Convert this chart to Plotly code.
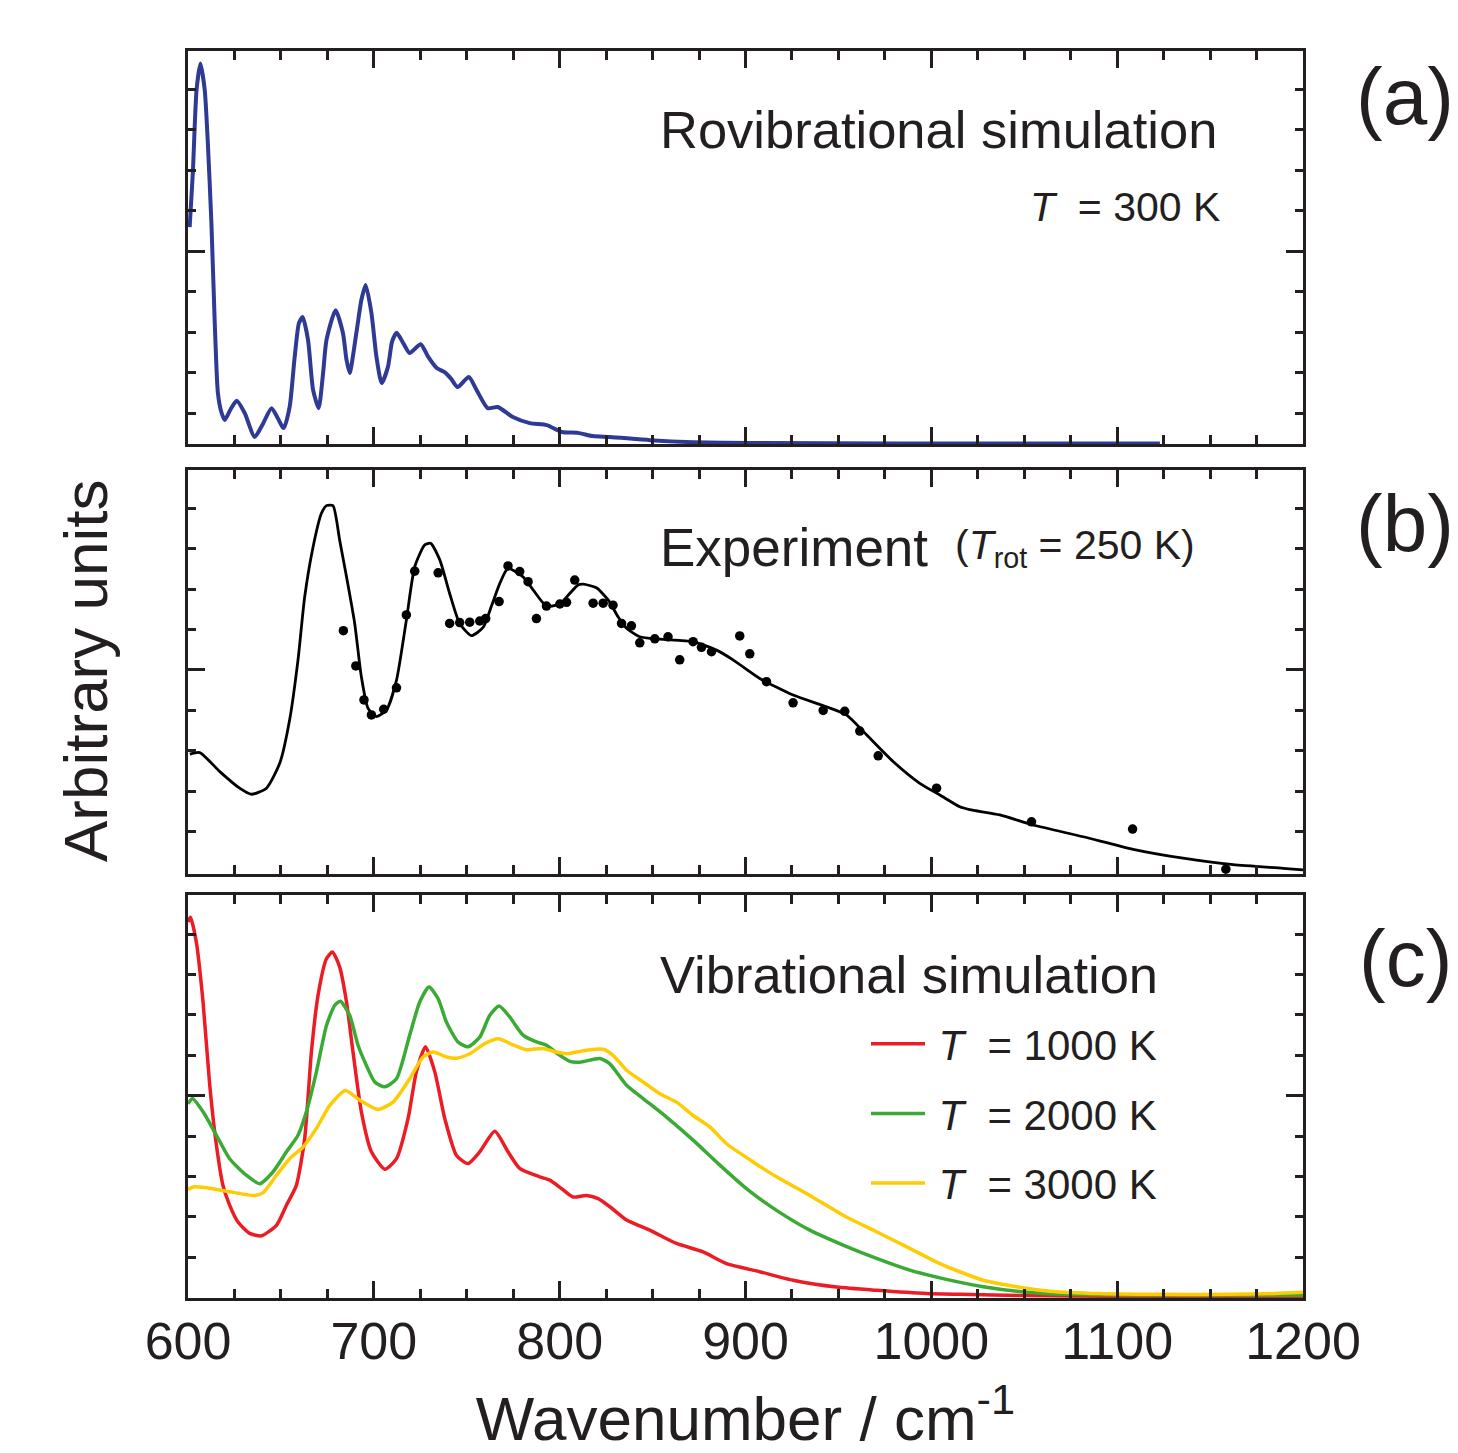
import plotly.graph_objects as go

# ---------------- data ----------------
# Panel (a): rovibrational simulation, T = 300 K
a_x = [600.9, 602.6, 604.6, 606.7, 609.0, 610.6, 612.6, 614.4, 616.1, 618.1, 619.8, 623.0,
       626.2, 630.5, 635.9, 640.5, 645.0, 651.5, 654.7, 657.4, 659.7, 661.7, 664.6, 667.3,
       670.3, 672.7, 674.5, 679.4, 683.4, 685.3, 687.0, 690.6, 693.3, 695.6, 698.7, 701.4,
       704.2, 707.6, 709.8, 712.3, 715.9, 719.3, 725.2, 729.2, 733.8, 738.1, 741.5, 745.1,
       751.1, 755.5, 761.3, 766.7, 774.8, 783.9, 793.1, 801.2, 809.8, 817.9, 827.0, 848.6,
       871.7, 902.3, 983.0, 1123.0]
a_y = [4.59, 5.93, 7.98, 8.63, 7.98, 6.74, 4.69, 2.22, 0.49, 0.00, -0.17, 0.10,
       0.30, 0.00, -0.59, -0.25, 0.12, -0.37, 0.15, 1.38, 2.22, 2.37, 1.80, 0.57,
       0.12, 0.99, 1.80, 2.54, 1.97, 1.31, 0.99, 1.98, 2.79, 3.16, 2.47, 1.39,
       0.74, 1.14, 1.76, 1.98, 1.72, 1.48, 1.70, 1.39, 1.11, 1.01, 0.85, 0.64,
       0.89, 0.55, 0.12, 0.15, -0.10, -0.25, -0.30, -0.47, -0.49, -0.57, -0.59, -0.67,
       -0.72, -0.74, -0.75, -0.75]

# Panel (b): experiment, fitted curve
b_x = [601.0, 606.3, 617.1, 627.8, 634.1, 642.2, 649.4, 654.7, 659.2, 662.8, 667.3, 671.8,
       674.5, 678.0, 681.6, 685.3, 689.7, 693.3, 696.9, 701.4, 706.8, 712.2, 717.5, 722.0,
       727.4, 730.5, 735.5, 740.8, 746.2, 752.5, 758.8, 763.3, 767.8, 772.2, 780.3, 785.7,
       792.9, 800.1, 805.4, 809.9, 812.6, 819.8, 826.1, 831.5, 836.0, 843.1, 853.9, 871.8,
       884.4, 893.3, 907.7, 925.6, 943.6, 954.3, 965.1, 979.4, 993.8, 1004.6, 1015.3, 1020.6,
       1036.9, 1054.8, 1081.7, 1108.6, 1135.5, 1162.4, 1189.3, 1200.0]
b_y = [1.92, 1.96, 1.49, 1.08, 0.93, 1.08, 1.70, 2.77, 4.25, 5.81, 7.04, 7.87,
       8.06, 8.06, 7.21, 6.30, 5.15, 3.83, 3.05, 2.85, 3.01, 3.75, 5.23, 6.55,
       7.09, 7.13, 6.72, 5.89, 5.15, 4.85, 5.05, 5.58, 6.14, 6.51, 6.30, 5.98,
       5.58, 5.63, 5.89, 6.10, 6.12, 6.03, 5.73, 5.31, 5.03, 4.82, 4.76, 4.70,
       4.49, 4.25, 3.79, 3.38, 3.09, 2.89, 2.40, 1.74, 1.20, 0.91, 0.62, 0.55,
       0.42, 0.17, -0.12, -0.43, -0.65, -0.81, -0.90, -0.94]

# Panel (b): experimental points
pts_x = [683.6, 690.3, 694.7, 698.7, 705.3, 712.2, 717.5, 722.0, 734.6, 740.8, 746.2, 751.6,
         757.0, 760.2, 767.4, 772.2, 778.5, 783.0, 787.5, 792.9, 800.1, 803.7, 808.1, 818.0,
         823.4, 828.7, 833.3, 838.6, 843.1, 851.2, 858.3, 864.6, 871.8, 876.3, 881.7, 896.9,
         902.3, 911.3, 925.6, 941.8, 953.4, 961.5, 971.4, 1002.8, 1053.9, 1108.3, 1158.5]
pts_y = [4.97, 4.10, 3.26, 2.89, 3.03, 3.56, 5.36, 6.44, 6.40, 5.15, 5.17, 5.18,
         5.21, 5.27, 5.69, 6.57, 6.43, 6.18, 5.27, 5.58, 5.63, 5.67, 6.22, 5.65,
         5.65, 5.60, 5.15, 5.09, 4.67, 4.77, 4.82, 4.25, 4.70, 4.56, 4.45, 4.84,
         4.40, 3.71, 3.19, 3.00, 2.98, 2.49, 1.88, 1.08, 0.25, 0.07, -0.92]

# Panel (c): vibrational simulation
c1000_x = [600.0, 601.3, 604.5, 608.1, 611.7, 615.3, 618.8, 622.4, 626.9, 633.2, 639.5, 647.6,
           653.0, 658.3, 662.8, 666.4, 670.0, 674.5, 677.7, 681.6, 685.3, 688.8, 693.3, 698.7,
           705.9, 712.2, 718.4, 722.9, 727.8, 732.8, 738.2, 744.5, 750.7, 757.0, 765.1, 772.2,
           778.5, 789.3, 794.7, 801.0, 807.2, 814.4, 820.7, 827.0, 836.0, 848.5, 862.9, 877.2,
           889.8, 907.7, 925.6, 949.0, 970.5, 997.4, 1015.3, 1050.0, 1100.0, 1150.0, 1200.0]
c1000_y = [8.30, 8.42, 7.80, 6.32, 4.26, 2.77, 1.78, 1.29, 0.87, 0.59, 0.53, 0.79,
           1.29, 1.78, 2.94, 5.08, 6.49, 7.39, 7.56, 7.19, 6.32, 5.08, 3.60, 2.61,
           2.18, 2.44, 3.43, 4.59, 5.21, 4.59, 3.43, 2.52, 2.32, 2.61, 3.12, 2.61,
           2.20, 1.99, 1.91, 1.70, 1.49, 1.53, 1.45, 1.25, 0.92, 0.67, 0.34, 0.13,
           -0.16, -0.36, -0.57, -0.74, -0.82, -0.90, -0.92, -0.95, -0.97, -0.98, -0.98]

c2000_x = [600.0, 602.4, 608.1, 615.3, 622.4, 631.4, 638.6, 645.7, 653.0, 659.2, 663.7, 669.1,
           674.5, 679.0, 682.0, 687.0, 691.5, 696.0, 700.5, 705.9, 712.2, 719.3, 724.7, 729.7,
           734.6, 739.1, 745.3, 750.7, 757.0, 762.4, 767.4, 773.1, 780.3, 787.5, 792.9, 800.1,
           805.4, 810.8, 821.6, 827.0, 836.0, 844.9, 857.5, 871.8, 886.2, 900.5, 916.7, 934.6,
           952.5, 970.5, 988.4, 1006.3, 1027.9, 1045.9, 1072.8, 1110.0, 1150.0, 1200.0]
c2000_y = [3.80, 3.93, 3.60, 3.02, 2.44, 2.03, 1.82, 2.11, 2.61, 3.02, 3.60, 4.59,
           5.74, 6.24, 6.34, 5.99, 5.25, 4.75, 4.34, 4.22, 4.42, 5.50, 6.32, 6.69,
           6.40, 5.82, 5.33, 5.21, 5.45, 5.99, 6.22, 5.95, 5.50, 5.33, 5.25, 5.00,
           4.85, 4.83, 4.92, 4.79, 4.26, 3.93, 3.47, 2.90, 2.28, 1.70, 1.16, 0.67,
           0.30, -0.03, -0.32, -0.53, -0.73, -0.84, -0.92, -0.94, -0.94, -0.94]

c3000_x = [600.0, 602.7, 609.9, 622.4, 635.9, 640.4, 647.6, 654.7, 661.9, 669.1, 676.3, 684.7,
           692.4, 702.3, 710.3, 719.3, 726.5, 731.9, 739.1, 744.5, 751.6, 759.7, 766.9, 774.9,
           782.1, 791.1, 798.3, 803.7, 809.0, 816.2, 823.4, 828.7, 836.0, 844.9, 853.9, 862.9,
           871.8, 880.8, 889.8, 904.1, 916.7, 934.6, 952.5, 970.5, 988.4, 1002.8, 1015.3, 1027.9,
           1045.9, 1063.8, 1090.7, 1120.0, 1160.0, 1185.0, 1200.0]
c3000_y = [1.68, 1.74, 1.72, 1.62, 1.53, 1.60, 2.03, 2.44, 2.73, 3.19, 3.76, 4.13,
           3.89, 3.66, 3.84, 4.42, 4.96, 5.08, 4.96, 4.93, 5.04, 5.29, 5.41, 5.26,
           5.14, 5.17, 5.08, 5.04, 5.08, 5.14, 5.15, 5.00, 4.63, 4.34, 4.05, 3.84,
           3.51, 3.23, 2.81, 2.36, 1.99, 1.53, 1.04, 0.63, 0.22, -0.12, -0.36, -0.57,
           -0.73, -0.84, -0.90, -0.92, -0.92, -0.90, -0.87]

x_tick_vals = [600, 700, 800, 900, 1000, 1100, 1200]
x_tick_text = ["600", "700", "800", "900", "1000", "1100", "1200"]

# ---------------- styling ----------------
W, H = 1458, 1453
FONT = "Liberation Sans, Arial, sans-serif"
FRAME = "#231F20"
TXT = "#231F20"
BLUE = "#2E3A94"
RED = "#EC1C24"
GREEN = "#3AAA35"
YELLOW = "#FFCB05"


def fx(px):
    return px / W


def fy(py):
    return 1 - py / H


fig = go.Figure()

fig.add_trace(go.Scatter(x=a_x, y=a_y, mode="lines", line=dict(color=BLUE, width=4, shape="spline", smoothing=0.6),
                         showlegend=False, xaxis="x", yaxis="y"))
fig.add_trace(go.Scatter(x=b_x, y=b_y, mode="lines", line=dict(color="black", width=2.8, shape="spline", smoothing=0.6),
                         showlegend=False, xaxis="x2", yaxis="y2"))
fig.add_trace(go.Scatter(x=pts_x, y=pts_y, mode="markers", marker=dict(color="black", size=9.5),
                         showlegend=False, xaxis="x2", yaxis="y2"))
for xs, ys, col, name, grp in [(c1000_x, c1000_y, RED, "\u2009<i>T</i>\u00a0\u00a0= 1000 K", "g1"),
                               (c2000_x, c2000_y, GREEN, "\u2009<i>T</i>\u00a0\u00a0= 2000 K", "g2"),
                               (c3000_x, c3000_y, YELLOW, "\u2009<i>T</i>\u00a0\u00a0= 3000 K", "g3")]:
    fig.add_trace(go.Scatter(x=xs, y=ys, mode="lines", name=name, legendgroup=grp,
                             line=dict(color=col, width=3.5, shape="spline", smoothing=0.6),
                             xaxis="x3", yaxis="y3"))

x_dom = [fx(188), fx(1303)]
xbase = dict(range=[600, 1200], domain=x_dom, showline=True, linecolor=FRAME, linewidth=2.5,
             mirror="ticks", ticks="inside", ticklen=17, tickwidth=2.5, tickcolor=FRAME,
             tickmode="array", tickvals=x_tick_vals, ticktext=x_tick_text,
             minor=dict(tickmode="linear", tick0=600, dtick=25, ticks="inside", ticklen=9,
                        tickwidth=2.5, tickcolor=FRAME),
             showgrid=False, zeroline=False, showticklabels=False, automargin=False,
             tickfont=dict(family=FONT, size=52, color=TXT))


def ybase(rng, dom):
    return dict(range=rng, domain=dom, showline=True, linecolor=FRAME, linewidth=2.5,
                mirror="ticks", ticks="inside", ticklen=17, tickwidth=2.5, tickcolor=FRAME,
                tickmode="array", tickvals=[4],
                minor=dict(tickmode="array", tickvals=[0, 1, 2, 3, 5, 6, 7, 8], ticks="inside",
                           ticklen=8, tickwidth=2.5, tickcolor=FRAME),
                showgrid=False, zeroline=False, showticklabels=False, automargin=False)


x3 = dict(xbase)
x3.update(showticklabels=True, anchor="y3", ticklabelstandoff=-4,
          title=dict(text="Wavenumber / cm<sup>-1</sup>", standoff=35,
                     font=dict(family=FONT, size=62, color=TXT)))
x1 = dict(xbase)
x1.update(anchor="y", matches="x3")
x2 = dict(xbase)
x2.update(anchor="y2", matches="x3")

fig.update_layout(
    template="none",
    width=W, height=H, autosize=False,
    margin=dict(l=0, r=0, t=0, b=0, pad=0, autoexpand=False),
    paper_bgcolor="white", plot_bgcolor="white",
    font=dict(family=FONT, color=TXT),
    xaxis=x1, xaxis2=x2, xaxis3=x3,
    yaxis=dict(ybase([-0.765, 8.94], [fy(444), fy(51)]), anchor="x"),
    yaxis2=dict(ybase([-1.04, 8.94], [fy(874), fy(470)]), anchor="x2"),
    yaxis3=dict(ybase([-1.01, 8.97], [fy(1298), fy(895)]), anchor="x3"),
    legend=dict(x=fx(866), y=fy(1010), xanchor="left", yanchor="top",
                font=dict(family=FONT, size=42, color=TXT), bgcolor="rgba(0,0,0,0)",
                traceorder="grouped", tracegroupgap=12, itemwidth=54),
)

ann = []


def add_text(text, x, y, size, xanchor="left", yanchor="middle", angle=0):
    ann.append(dict(text=text, x=x, y=y, xref="paper", yref="paper", xanchor=xanchor, yanchor=yanchor,
                    showarrow=False, textangle=angle, font=dict(family=FONT, size=size, color=TXT)))


add_text("Rovibrational simulation", fx(1219), fy(130), 52.5, xanchor="right")
add_text("<i>T</i>\u00a0\u00a0= 300 K", fx(1222), fy(207), 41, xanchor="right")
add_text("Experiment", fx(658), fy(548), 53)
add_text("(<i>T</i><sub>rot</sub> = 250 K)", fx(953), fy(548), 41)
add_text("Vibrational simulation", fx(658), fy(975), 52.5)
add_text("(a)", fx(1405), fy(97), 80, xanchor="center")
add_text("(b)", fx(1405), fy(523), 80, xanchor="center")
add_text("(c)", fx(1405), fy(958), 80, xanchor="center")
add_text("Arbitrary units", fx(85), fy(671), 62, xanchor="center", angle=-90)
fig.update_layout(annotations=ann)

fig.write_html("out.html", config={"displayModeBar": False},
               post_script="document.body.style.margin='0px';document.body.style.overflow='hidden';")
